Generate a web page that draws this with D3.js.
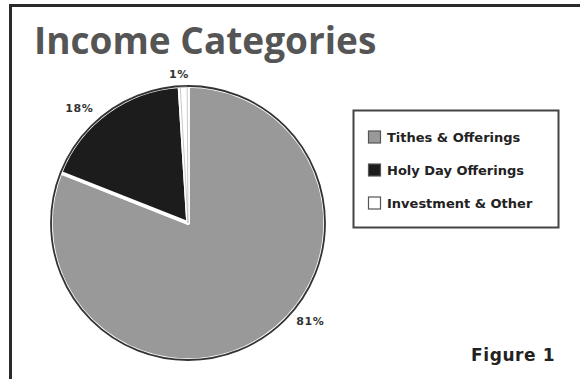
<!DOCTYPE html>
<html>
<head>
<meta charset="utf-8">
<script src="https://cdn.jsdelivr.net/npm/d3@7"></script>
<style>
  html, body { margin: 0; padding: 0; background: #fff; }
  svg { display: block; }
</style>
</head>
<body>
<svg id="chart" width="580" height="379"></svg>
<script>
// Income share by category (percent)
const categories = ["Tithes & Offerings", "Holy Day Offerings", "Investment & Other"];
const shares = [81, 18, 1];
const sliceColors = ["#999999", "#1c1c1c", "#ffffff"];
// label angle nudges (degrees) and radii so text sits clear of the rim
const labelNudge = [-17, -7.5, -1.7];
const labelRadius = [157, 158, 149];

const svg = d3.select("#chart");
const W = 580, H = 379;

// page frame (runs off the right and bottom edges)
svg.append("rect")
  .attr("x", 10.5).attr("y", 5.5)
  .attr("width", W + 20).attr("height", H + 20)
  .attr("fill", "#fff")
  .attr("stroke", "#2a2a2a")
  .attr("stroke-width", 3);

// title
svg.append("text")
  .attr("x", 34).attr("y", 54)
  .attr("font-family", "'Open Sans', sans-serif")
  .attr("font-weight", 700)
  .attr("font-size", 37)
  .attr("fill", "#555")
  .text("Income Categories");

// pie
const cx = 188, cy = 223, R = 137;
const pie = d3.pie().sort(null).value(d => d)(shares);
const arc = d3.arc().innerRadius(0).outerRadius(R);

const g = svg.append("g").attr("transform", `translate(${cx},${cy})`);

g.selectAll("path.slice")
  .data(pie)
  .join("path")
  .attr("class", "slice")
  .attr("d", arc)
  .attr("fill", (d, i) => sliceColors[i])
  .attr("stroke", "#fff")
  .attr("stroke-width", 3.5)
  .attr("stroke-linejoin", "round");

// dark outline around the rim
g.append("circle")
  .attr("r", R)
  .attr("fill", "none")
  .attr("stroke", "#333")
  .attr("stroke-width", 1.8);

// thin grey edges of the white slice
g.selectAll("path.edge")
  .data(pie.filter((d, i) => sliceColors[i] === "#ffffff"))
  .join("path")
  .attr("class", "edge")
  .attr("d", d3.arc().innerRadius(0).outerRadius(R - 1).padAngle(0.012))
  .attr("fill", "none")
  .attr("stroke", "#bbb")
  .attr("stroke-width", 0.8);

// percentage labels
g.selectAll("text.pct")
  .data(pie)
  .join("text")
  .attr("class", "pct")
  .each(function(d, i) {
    const a = (d.startAngle + d.endAngle) / 2 + labelNudge[i] * Math.PI / 180;
    const r = labelRadius[i];
    d3.select(this)
      .attr("x", Math.sin(a) * r)
      .attr("y", -Math.cos(a) * r);
  })
  .attr("dy", "0.36em")
  .attr("text-anchor", "middle")
  .attr("font-family", "'DejaVu Sans', sans-serif")
  .attr("font-weight", 700)
  .attr("font-size", 11)
  .attr("letter-spacing", 0.6)
  .attr("fill", "#333")
  .text(d => `${d.value}%`);

// legend
const lg = svg.append("g").attr("transform", "translate(353,110)");
lg.append("rect")
  .attr("x", 0.5).attr("y", 0.5)
  .attr("width", 205).attr("height", 117)
  .attr("fill", "#fff")
  .attr("stroke", "#444")
  .attr("stroke-width", 2);

const rowY = d3.scalePoint().domain(categories).range([27, 93]);
const rows = lg.selectAll("g.row")
  .data(categories)
  .join("g")
  .attr("class", "row")
  .attr("transform", d => `translate(15,${rowY(d)})`);

rows.append("rect")
  .attr("x", 0.5).attr("y", -6)
  .attr("width", 12).attr("height", 12)
  .attr("fill", (d, i) => sliceColors[i])
  .attr("stroke", "#555")
  .attr("stroke-width", 1.2);

rows.append("text")
  .attr("x", 19).attr("y", 0)
  .attr("dy", "0.36em")
  .attr("font-family", "'DejaVu Sans', sans-serif")
  .attr("font-weight", 700)
  .attr("font-size", 13)
  .attr("fill", "#222")
  .text(d => d);

// figure caption
svg.append("text")
  .attr("x", 471).attr("y", 361)
  .attr("font-family", "'DejaVu Sans', sans-serif")
  .attr("font-weight", 700)
  .attr("font-size", 17)
  .attr("letter-spacing", 0.6)
  .attr("fill", "#222")
  .text("Figure 1");
</script>
</body>
</html>
